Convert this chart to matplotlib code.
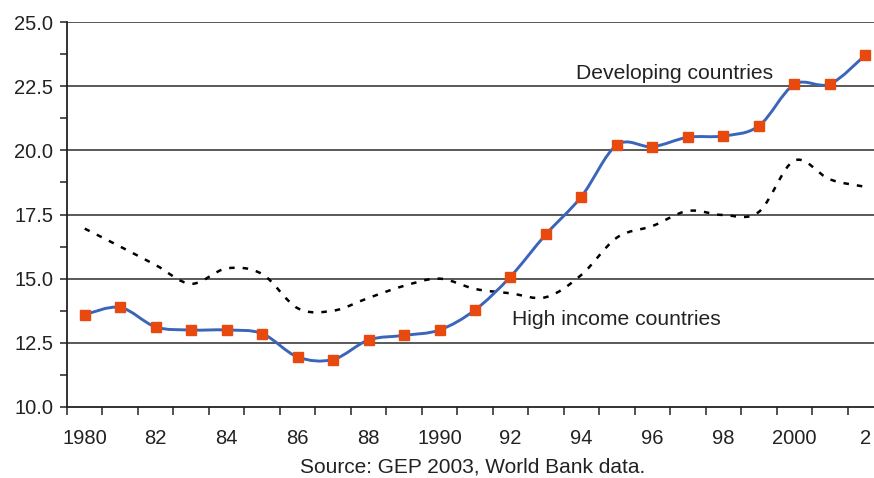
import numpy as np
import matplotlib.pyplot as plt
from matplotlib.path import Path
from matplotlib.patches import PathPatch

plt.rcParams['font.family'] = ['Liberation Sans', 'DejaVu Sans']

years = list(range(1980, 2003))
developing = [13.6, 13.88, 13.12, 13.0, 13.0, 12.86, 11.95, 11.85, 12.61, 12.79, 13.0,
              13.78, 15.08, 16.73, 18.2, 20.21, 20.14, 20.51, 20.56, 20.95, 22.57, 22.58, 23.71]
high_income = [16.95, 16.25, 15.53, 14.8, 15.4, 15.18, 13.85, 13.75, 14.25, 14.72, 15.0,
               14.6, 14.43, 14.28, 15.15, 16.6, 17.05, 17.64, 17.48, 17.6, 19.6, 18.87, 18.58]
xlabels = ['1980', '82', '84', '86', '88', '1990', '92', '94', '96', '98', '2000', '2']


def smooth_path(xs, ys):
    # Catmull-Rom turned into cubic Bezier segments (like Excel's smoothed line)
    pts = np.column_stack([xs, ys]).astype(float)
    ext = np.vstack([pts[0], pts, pts[-1]])
    verts = [pts[0]]
    codes = [Path.MOVETO]
    for i in range(1, len(ext) - 2):
        p0, p1, p2, p3 = ext[i - 1], ext[i], ext[i + 1], ext[i + 2]
        verts += [p1 + (p2 - p0) / 6, p2 - (p3 - p1) / 6, p2]
        codes += [Path.CURVE4] * 3
    return Path(verts, codes)


fig = plt.figure(figsize=(8.74, 4.78), dpi=100)
ax = fig.add_axes([67 / 874, 71 / 478, 816 / 874, 385 / 478])

ax.set_xlim(1979.5, 2002.5)
ax.set_ylim(10, 25)

for v in [12.5, 15.0, 17.5, 20.0, 22.5, 25.0]:
    ax.axhline(v, color='#2b2b2b', lw=1.1, zorder=1)

ax.add_patch(PathPatch(smooth_path(years, high_income), fill=False, edgecolor='black',
                       lw=1.8, linestyle=(0, (2.2, 3.2)), zorder=2))
ax.add_patch(PathPatch(smooth_path(years, developing), fill=False, edgecolor='#3a65b8',
                       lw=2.1, zorder=3))
ax.plot(years, developing, linestyle='none', marker='s', markersize=6.5,
        color='#e8490f', zorder=4)

ax.text(1993.85, 23.0, 'Developing countries', fontsize=15.2, color='#222222', va='center')
ax.text(1992.05, 13.4, 'High income countries', fontsize=15.2, color='#222222', va='center')

for s in ['top', 'right']:
    ax.spines[s].set_visible(False)
for s in ['left', 'bottom']:
    ax.spines[s].set_linewidth(1.3)
    ax.spines[s].set_color('#222222')

ax.set_yticks([10, 12.5, 15, 17.5, 20, 22.5, 25])
ax.set_yticklabels(['10.0', '12.5', '15.0', '17.5', '20.0', '22.5', '25.0'])
ax.set_yticks(np.arange(10, 25.01, 1.25), minor=True)
ax.tick_params(axis='y', which='both', direction='out', length=5, width=1.1,
               labelsize=14.5, pad=5, colors='#222222')

ax.set_xticks(list(range(1980, 2003, 2)))
ax.set_xticklabels(xlabels)
ax.set_xticks(np.arange(1979.5, 2003, 1), minor=True)
ax.tick_params(axis='x', which='major', length=0, labelsize=14.5, pad=16, colors='#222222')
ax.tick_params(axis='x', which='minor', direction='out', length=6, width=1.1, color='#222222')

fig.text(473 / 874, 1 - 467 / 478, 'Source: GEP 2003, World Bank data.', fontsize=15,
         ha='center', va='center', color='#222222')

fig.savefig('out.png', dpi=100)
